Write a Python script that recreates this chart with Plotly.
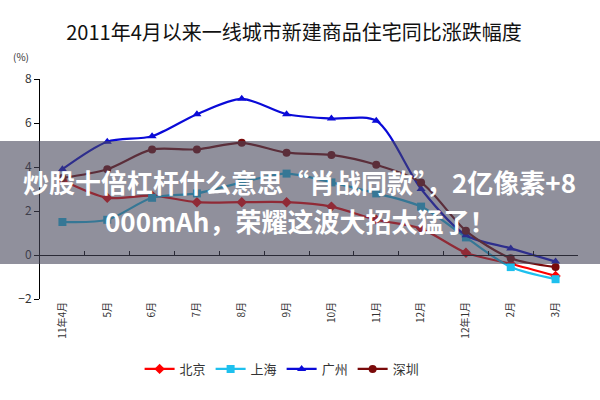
import plotly.graph_objects as go

# ==================== DATA ====================
months = ["11年4月", "5月", "6月", "7月", "8月", "9月", "10月", "11月",
          "12月", "12年1月", "2月", "3月"]
beijing = [3.4, 2.6, 2.7, 2.4, 2.4, 2.4, 2.2, 1.6, 1.2, 0.1, -0.4, -0.95]
shanghai = [1.5, 1.6, 2.6, 2.8, 3.3, 3.7, 3.3, 2.8, 2.2, 0.8, -0.55, -1.1]
guangzhou = [3.9, 5.15, 5.4, 6.4, 7.1, 6.4, 6.2, 6.1, 3.0, 0.9, 0.3, -0.3]
shenzhen = [3.5, 3.9, 4.8, 4.8, 5.1, 4.65, 4.55, 4.1, 3.3, 1.1, -0.15, -0.55]

title_text = "2011年4月以来一线城市新建商品住宅同比涨跌幅度"
overlay_line1 = "炒股十倍杠杆什么意思“肖战同款”，2亿像素+8"
overlay_line2 = "000mAh，荣耀这波大招太猛了！"

FONT = "Noto Sans CJK SC"

series = [
    ("北京", beijing, "#ff0000", "diamond"),
    ("上海", shanghai, "#1ec0ee", "square"),
    ("广州", guangzhou, "#0a0ad8", "triangle-up"),
    ("深圳", shenzhen, "#7a0a0a", "circle"),
]

x_idx = list(range(len(months)))

fig = go.Figure()
for name, vals, color, symbol in series:
    fig.add_trace(go.Scatter(
        x=x_idx, y=vals, name=name, mode="lines+markers",
        line=dict(color=color, width=2.2, shape="spline", smoothing=0.8),
        marker=dict(symbol=symbol, size=8, color=color),
    ))

# invisible trace so the zero-line axis (x2) gets drawn
fig.add_trace(go.Scatter(x=[0], y=[0], xaxis="x2", mode="markers",
                         marker=dict(opacity=0), showlegend=False,
                         hoverinfo="skip"))

fig.update_layout(
    width=600, height=400,
    paper_bgcolor="white", plot_bgcolor="white",
    font=dict(family=FONT, color="#333"),
    margin=dict(l=40, r=22, t=79, b=101),
    title=dict(text=title_text, x=0.49, xanchor="center", y=0.9175,
               yanchor="middle", font=dict(size=20, color="#111", family=FONT)),
    xaxis=dict(range=[-0.5, 11.5], tickvals=x_idx, ticktext=months,
               tickangle=-90, showline=False, showgrid=False, zeroline=False,
               ticks="", tickfont=dict(size=10, color="#333")),
    xaxis2=dict(range=[-0.5, 11.5], overlaying="x", anchor="free",
                position=0.2, side="bottom",
                tickvals=[i - 0.5 for i in range(len(months) + 1)],
                ticks="inside", ticklen=4, tickcolor="black",
                showticklabels=False, showline=True, linecolor="black",
                linewidth=1, showgrid=False, zeroline=False),
    yaxis=dict(range=[-2, 8], dtick=2, showgrid=False, zeroline=False,
               showline=True, linecolor="black", linewidth=1,
               ticks="outside", ticklen=5, tickcolor="black",
               tickfont=dict(size=12, color="#333")),
    legend=dict(orientation="h", x=0.45, xanchor="center", y=-0.318,
                yanchor="middle", font=dict(size=13, color="#333"),
                itemwidth=30, bgcolor="rgba(0,0,0,0)"),
    showlegend=True,
)

fig.add_annotation(text="(%)", xref="paper", yref="paper", x=-0.035, y=1.1,
                   xanchor="center", yanchor="middle",
                   showarrow=False, font=dict(size=10, color="#333"))

# grey overlay band with caption
fig.add_shape(type="rect", xref="paper", yref="paper",
              x0=-0.08, x1=1.05, y0=0.159, y1=0.718,
              fillcolor="rgba(70,70,90,0.6)", line=dict(width=0),
              layer="above")
for txt, yy in [(overlay_line1, 0.536), (overlay_line2, 0.355)]:
    fig.add_annotation(text=f"<b>{txt}</b>", xref="paper", yref="paper",
                       x=0.483, y=yy, showarrow=False, xanchor="center",
                       yanchor="middle",
                       font=dict(size=26, color="white", family=FONT))

# drop the default page margin so the figure sits at the window's corner
fig.write_html("out.html", config={"displayModeBar": False},
               post_script="document.body.style.margin='0';")
